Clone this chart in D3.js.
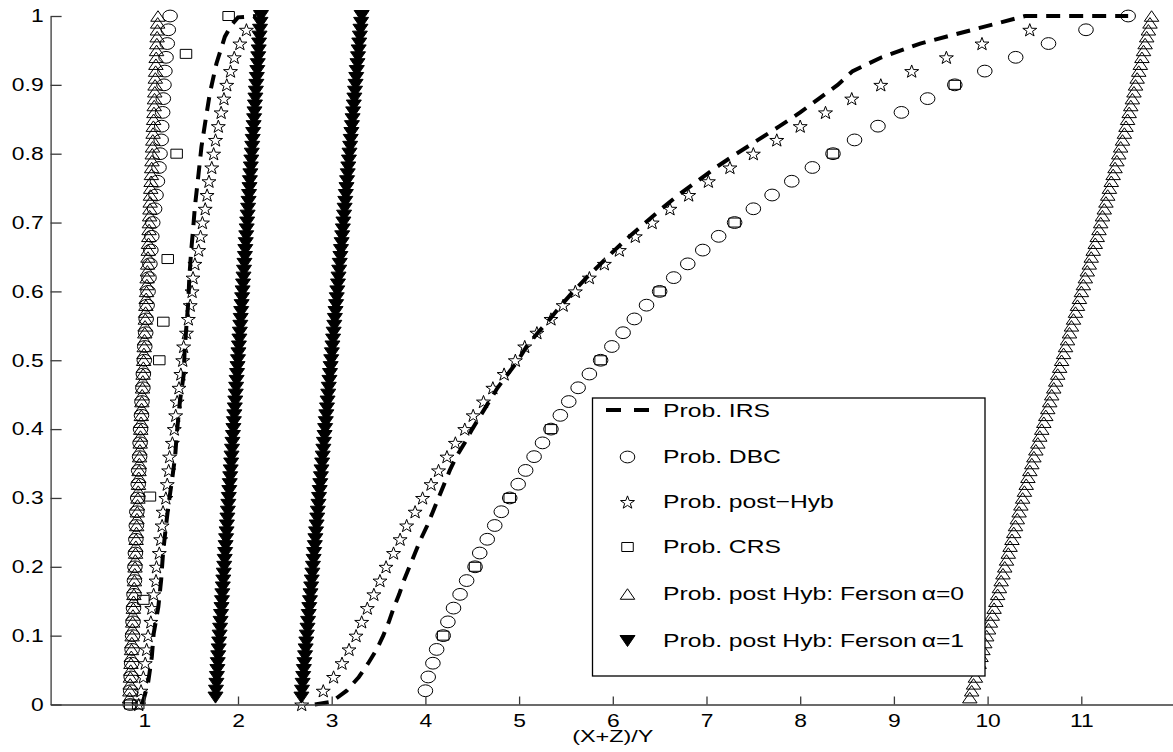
<!DOCTYPE html>
<html><head><meta charset="utf-8">
<script src="https://cdn.jsdelivr.net/npm/d3@7"></script>
<style>
body{margin:0;background:#fff;}
svg{display:block;}
text{font-family:"Liberation Sans",Arial,Helvetica,sans-serif;fill:#000;}
</style>
</head><body>
<svg id="chart" width="1173" height="752"></svg>
<script>
// ---------------- data ----------------
const yGrid51 = [0,0.02,0.04,0.06,0.08,0.10,0.12,0.14,0.16,0.18,0.20,0.22,0.24,0.26,0.28,0.30,0.32,0.34,0.36,0.38,0.40,0.42,0.44,0.46,0.48,0.50,0.52,0.54,0.56,0.58,0.60,0.62,0.64,0.66,0.68,0.70,0.72,0.74,0.76,0.78,0.80,0.82,0.84,0.86,0.88,0.90,0.92,0.94,0.96,0.98,1.00];
const yGrid100 = [0.01,0.02,0.03,0.04,0.05,0.06,0.07,0.08,0.09,0.10,0.11,0.12,0.13,0.14,0.15,0.16,0.17,0.18,0.19,0.20,0.21,0.22,0.23,0.24,0.25,0.26,0.27,0.28,0.29,0.30,0.31,0.32,0.33,0.34,0.35,0.36,0.37,0.38,0.39,0.40,0.41,0.42,0.43,0.44,0.45,0.46,0.47,0.48,0.49,0.50,0.51,0.52,0.53,0.54,0.55,0.56,0.57,0.58,0.59,0.60,0.61,0.62,0.63,0.64,0.65,0.66,0.67,0.68,0.69,0.70,0.71,0.72,0.73,0.74,0.75,0.76,0.77,0.78,0.79,0.80,0.81,0.82,0.83,0.84,0.85,0.86,0.87,0.88,0.89,0.90,0.91,0.92,0.93,0.94,0.95,0.96,0.97,0.98,0.99,1.00];

// Prob. IRS (dashed line, two curves)
const irsLeftX = [0.97,0.99,1.04,1.08,1.10,1.15,1.18,1.20,1.23,1.26,1.30,1.33,1.345,1.38,1.42,1.43,1.45,1.47,1.48,1.50,1.52,1.54,1.58,1.61,1.66,1.70,1.77,1.86,1.93,2.00,2.20];
const irsLeftY = [0,0.006,0.031,0.069,0.103,0.142,0.181,0.22,0.258,0.292,0.33,0.362,0.391,0.44,0.479,0.512,0.551,0.585,0.619,0.658,0.689,0.723,0.772,0.81,0.854,0.888,0.931,0.97,0.987,0.998,1.0];
const irsRightX = [2.82,3.00,3.16,3.29,3.39,3.48,3.55,3.61,3.66,3.72,3.77,3.83,3.89,3.95,4.02,4.08,4.14,4.20,4.26,4.33,4.42,4.50,4.59,4.68,4.77,4.88,4.99,5.08,5.20,5.33,5.45,5.58,5.72,5.87,6.02,6.18,6.35,6.52,6.70,6.90,7.10,7.32,7.55,7.78,8.00,8.20,8.40,8.56,8.87,9.28,9.84,10.40,11.50];
const irsRightY = [0,0.004,0.02,0.04,0.06,0.08,0.10,0.12,0.14,0.16,0.18,0.20,0.22,0.24,0.26,0.28,0.30,0.32,0.34,0.36,0.38,0.40,0.42,0.44,0.46,0.48,0.50,0.52,0.54,0.56,0.58,0.60,0.62,0.64,0.66,0.68,0.70,0.72,0.74,0.76,0.78,0.80,0.82,0.84,0.86,0.88,0.90,0.92,0.94,0.96,0.98,1.0,1.0];

// Prob. DBC (circles)
const dbcLeftX = [0.85,0.855,0.86,0.865,0.87,0.875,0.88,0.885,0.89,0.895,0.90,0.905,0.91,0.915,0.92,0.93,0.935,0.94,0.95,0.955,0.96,0.97,0.975,0.985,0.99,1.00,1.005,1.015,1.02,1.03,1.04,1.05,1.06,1.07,1.08,1.09,1.11,1.125,1.14,1.157,1.168,1.18,1.186,1.196,1.203,1.21,1.22,1.232,1.245,1.256,1.275];
const dbcRightX = [4.00,4.03,4.08,4.12,4.19,4.24,4.30,4.37,4.44,4.53,4.58,4.66,4.74,4.81,4.90,4.99,5.07,5.16,5.25,5.34,5.44,5.53,5.63,5.75,5.87,5.99,6.11,6.23,6.36,6.50,6.65,6.80,6.96,7.13,7.30,7.50,7.70,7.91,8.13,8.35,8.58,8.83,9.08,9.36,9.65,9.97,10.30,10.65,11.05,11.50];

// Prob. post-Hyb (stars)
const hybLeftX = [0.94,0.965,0.99,1.01,1.025,1.04,1.07,1.08,1.10,1.125,1.13,1.16,1.175,1.19,1.20,1.23,1.245,1.26,1.27,1.30,1.32,1.335,1.35,1.37,1.39,1.41,1.42,1.45,1.47,1.49,1.51,1.52,1.54,1.58,1.60,1.62,1.65,1.67,1.69,1.72,1.74,1.76,1.79,1.82,1.85,1.88,1.92,1.96,2.02,2.09];
const hybRightX = [2.68,2.91,3.02,3.11,3.185,3.26,3.32,3.38,3.45,3.515,3.58,3.66,3.73,3.80,3.89,3.97,4.06,4.14,4.23,4.32,4.42,4.51,4.62,4.72,4.84,4.96,5.06,5.19,5.34,5.47,5.60,5.75,5.91,6.07,6.24,6.42,6.61,6.81,7.02,7.25,7.50,7.75,8.00,8.27,8.55,8.86,9.19,9.56,9.94,10.45];

// Prob. CRS (squares)
const crsX = [0.85,0.935,0.99,1.06,1.16,1.203,1.25,1.345,1.445,1.90,4.19,4.53,4.90,5.34,5.87,6.50,7.30,8.35,9.65];
const crsY = [0,0,0.152,0.302,0.50,0.556,0.647,0.80,0.945,1.0,0.10,0.20,0.30,0.40,0.50,0.60,0.70,0.80,0.90];

// Prob. post Hyb: Ferson alpha=0 (open triangles)
const fer0LeftX = [0.843,0.846,0.849,0.852,0.855,0.858,0.861,0.864,0.867,0.870,0.873,0.876,0.879,0.883,0.886,0.889,0.892,0.895,0.898,0.901,0.904,0.907,0.910,0.913,0.916,0.919,0.922,0.925,0.928,0.932,0.935,0.938,0.941,0.944,0.947,0.950,0.953,0.956,0.959,0.962,0.965,0.968,0.971,0.974,0.977,0.981,0.984,0.987,0.990,0.993,0.996,0.999,1.002,1.005,1.008,1.011,1.014,1.017,1.020,1.024,1.027,1.030,1.033,1.036,1.039,1.042,1.045,1.048,1.051,1.054,1.057,1.060,1.063,1.066,1.069,1.073,1.076,1.079,1.082,1.085,1.088,1.091,1.094,1.097,1.100,1.103,1.106,1.109,1.112,1.115,1.118,1.121,1.124,1.127,1.131,1.134,1.137,1.140,1.143,1.146];
const fer0RightX = [9.810,9.830,9.850,9.870,9.890,9.910,9.930,9.950,9.970,9.990,10.010,10.030,10.050,10.069,10.088,10.107,10.126,10.145,10.164,10.183,10.202,10.221,10.240,10.260,10.279,10.298,10.317,10.336,10.355,10.374,10.393,10.412,10.430,10.451,10.472,10.494,10.515,10.536,10.557,10.578,10.600,10.621,10.642,10.663,10.684,10.706,10.727,10.748,10.769,10.790,10.811,10.832,10.853,10.874,10.895,10.917,10.938,10.959,10.980,11.001,11.022,11.043,11.064,11.085,11.106,11.127,11.149,11.170,11.189,11.207,11.226,11.245,11.263,11.282,11.300,11.320,11.340,11.360,11.380,11.400,11.420,11.440,11.460,11.477,11.494,11.511,11.528,11.545,11.562,11.579,11.596,11.613,11.630,11.647,11.664,11.681,11.698,11.716,11.733,11.750];

// Prob. post Hyb: Ferson alpha=1 (filled down triangles)
const fer1LeftX = [1.760,1.765,1.770,1.775,1.780,1.784,1.789,1.794,1.799,1.804,1.809,1.814,1.819,1.824,1.829,1.833,1.838,1.843,1.848,1.853,1.858,1.863,1.868,1.873,1.878,1.882,1.887,1.892,1.897,1.902,1.907,1.912,1.917,1.922,1.927,1.931,1.936,1.941,1.946,1.951,1.956,1.961,1.966,1.971,1.976,1.980,1.985,1.990,1.995,2.000,2.005,2.010,2.015,2.020,2.025,2.029,2.034,2.039,2.044,2.049,2.054,2.059,2.064,2.069,2.074,2.078,2.083,2.088,2.093,2.098,2.103,2.108,2.113,2.118,2.123,2.127,2.132,2.137,2.142,2.147,2.152,2.157,2.162,2.167,2.172,2.176,2.181,2.186,2.191,2.196,2.201,2.206,2.211,2.216,2.221,2.225,2.230,2.235,2.240,2.245];
const fer1RightX = [2.677,2.683,2.690,2.696,2.703,2.709,2.716,2.722,2.729,2.735,2.742,2.748,2.755,2.761,2.768,2.774,2.781,2.787,2.794,2.800,2.807,2.813,2.820,2.826,2.833,2.839,2.846,2.852,2.859,2.865,2.872,2.878,2.885,2.891,2.898,2.904,2.911,2.917,2.924,2.930,2.937,2.943,2.950,2.956,2.963,2.969,2.976,2.982,2.989,2.995,3.002,3.008,3.015,3.021,3.028,3.034,3.041,3.047,3.054,3.060,3.067,3.073,3.080,3.086,3.093,3.099,3.106,3.112,3.119,3.125,3.132,3.138,3.145,3.151,3.158,3.164,3.171,3.177,3.184,3.190,3.197,3.203,3.210,3.216,3.223,3.229,3.236,3.242,3.249,3.255,3.262,3.268,3.275,3.281,3.288,3.294,3.301,3.307,3.314,3.320];

const xTickValues = [1,2,3,4,5,6,7,8,9,10,11];
const xTickLabels = ["1","2","3","4","5","6","7","8","9","10","11"];
const yTickValues = [0,0.1,0.2,0.3,0.4,0.5,0.6,0.7,0.8,0.9,1];
const yTickLabels = ["0","0.1","0.2","0.3","0.4","0.5","0.6","0.7","0.8","0.9","1"];
const legendLabels = ["Prob. IRS","Prob. DBC","Prob. post\u2212Hyb","Prob. CRS","Prob. post Hyb: Ferson\u2009\u03b1=0","Prob. post Hyb: Ferson\u2009\u03b1=1"];
const xLabel = "(X+Z)/Y";

// ---------------- drawing ----------------
const svg = d3.select("#chart");
const x = d3.scaleLinear().domain([0,12]).range([50.6,1175]);
const y = d3.scaleLinear().domain([0,1]).range([704.5,16]);
const SX = 1.27; // horizontal stretch of the original rendering

const zip = (xs, ys) => xs.map((v,i)=>({x:v,y:ys[i]}));

function circlePath(rx, ry){
  return `M${-rx},0A${rx},${ry} 0 1,0 ${rx},0A${rx},${ry} 0 1,0 ${-rx},0Z`;
}
function triUp(w,h){ return `M0,${-h/2}L${w/2},${h/2}L${-w/2},${h/2}Z`; }
function triDown(w,h){ return `M0,${h/2}L${w/2},${-h/2}L${-w/2},${-h/2}Z`; }
function squarePath(w,h){ return `M${-w/2},${-h/2}H${w/2}V${h/2}H${-w/2}Z`; }
function starPath(R, sx){
  const pts=[]; const r=R*0.4;
  for(let i=0;i<10;i++){
    const a = -Math.PI/2 + i*Math.PI/5;
    const rr = i%2===0?R:r;
    pts.push([Math.cos(a)*rr*sx, Math.sin(a)*rr + R*0.1]);
  }
  return "M"+pts.map(p=>p[0].toFixed(2)+","+p[1].toFixed(2)).join("L")+"Z";
}
const M = {
  circle: circlePath(7.3,5.9),
  star: starPath(6.8,1.08),
  square: squarePath(11.5,9),
  tri: triUp(14.5,10.5),
  triD: triDown(15,11)
};

const plot = svg.append("g");

function markers(data, shape, fill){
  plot.append("g").selectAll("path").data(data).join("path")
    .attr("d", M[shape])
    .attr("transform", d=>`translate(${x(d.x)},${y(d.y)})`)
    .attr("fill", fill||"none")
    .attr("stroke", "#000")
    .attr("stroke-width", 1);
}

const line = d3.line().x(d=>x(d.x)).y(d=>y(d.y));
[zip(irsLeftX,irsLeftY), zip(irsRightX,irsRightY)].forEach(dat=>{
  plot.append("path").datum(dat).attr("d", line)
    .attr("fill","none").attr("stroke","#000")
    .attr("stroke-width",4).attr("stroke-dasharray","14,9");
});
markers(zip(dbcLeftX, yGrid51), "circle");
markers(zip(dbcRightX, yGrid51.slice(1)), "circle");
markers(zip(hybLeftX, yGrid51.slice(0,50)), "star");
markers(zip(hybRightX, yGrid51.slice(0,50)), "star");
markers(zip(crsX, crsY), "square");
markers(zip(fer0LeftX, yGrid100), "tri");
markers(zip(fer0RightX, yGrid100), "tri");
markers(zip(fer1LeftX, yGrid100), "triD", "#000");
markers(zip(fer1RightX, yGrid100), "triD", "#000");

// axes
const axisColor = "#3a3a3a";
const gx = svg.append("g").attr("transform",`translate(0,${y(0)})`)
  .call(d3.axisBottom(x).tickValues(xTickValues).tickFormat((d,i)=>xTickLabels[i])
        .tickSize(-8).tickSizeOuter(0).tickPadding(10));
const gy = svg.append("g").attr("transform",`translate(${x(0)},0)`)
  .call(d3.axisLeft(y).tickValues(yTickValues).tickFormat((d,i)=>yTickLabels[i])
        .tickSize(-11).tickSizeOuter(0).tickPadding(7));
[gx,gy].forEach(g=>{
  g.select(".domain").attr("stroke",axisColor).attr("stroke-width",1.3);
  g.selectAll(".tick line").attr("stroke",axisColor).attr("stroke-width",1.3);
  g.selectAll(".tick text").attr("font-size",18).attr("fill","#000")
    .attr("font-family",'"Liberation Sans",Arial,sans-serif');
});
gx.selectAll(".tick text").attr("transform",`scale(${SX},1)`);
gy.selectAll(".tick text").each(function(){
  const t=d3.select(this); const tx=+t.attr("x");
  t.attr("x",0).attr("transform",`translate(${tx},0) scale(${SX},1)`);
});

svg.append("text").attr("transform",`translate(${x(6)},742) scale(1.42,1)`)
  .attr("text-anchor","middle").attr("font-size",16.5).text(xLabel);

// legend
const lg = svg.append("g");
lg.append("rect").attr("x",592.5).attr("y",398).attr("width",392.5).attr("height",278)
  .attr("fill","#fff").attr("stroke","#000").attr("stroke-width",1.3);
const rowY = [410,456,501,546,593,640];
const mx = 627.5;
lg.append("line").attr("x1",606).attr("x2",649).attr("y1",rowY[0]).attr("y2",rowY[0])
  .attr("stroke","#000").attr("stroke-width",4).attr("stroke-dasharray","15,13");
const legShapes = [null,"circle","star","square","tri","triD"];
legShapes.forEach((s,i)=>{
  if(!s) return;
  lg.append("path").attr("d",M[s]).attr("transform",`translate(${mx},${rowY[i]+1})`)
    .attr("fill", s==="triD"?"#000":"none").attr("stroke","#000").attr("stroke-width",1);
});
legendLabels.forEach((t,i)=>{
  lg.append("text").attr("transform",`translate(663,${rowY[i]+7}) scale(1.30,1)`)
    .attr("font-size",19).text(t);
});
</script>
</body></html>
